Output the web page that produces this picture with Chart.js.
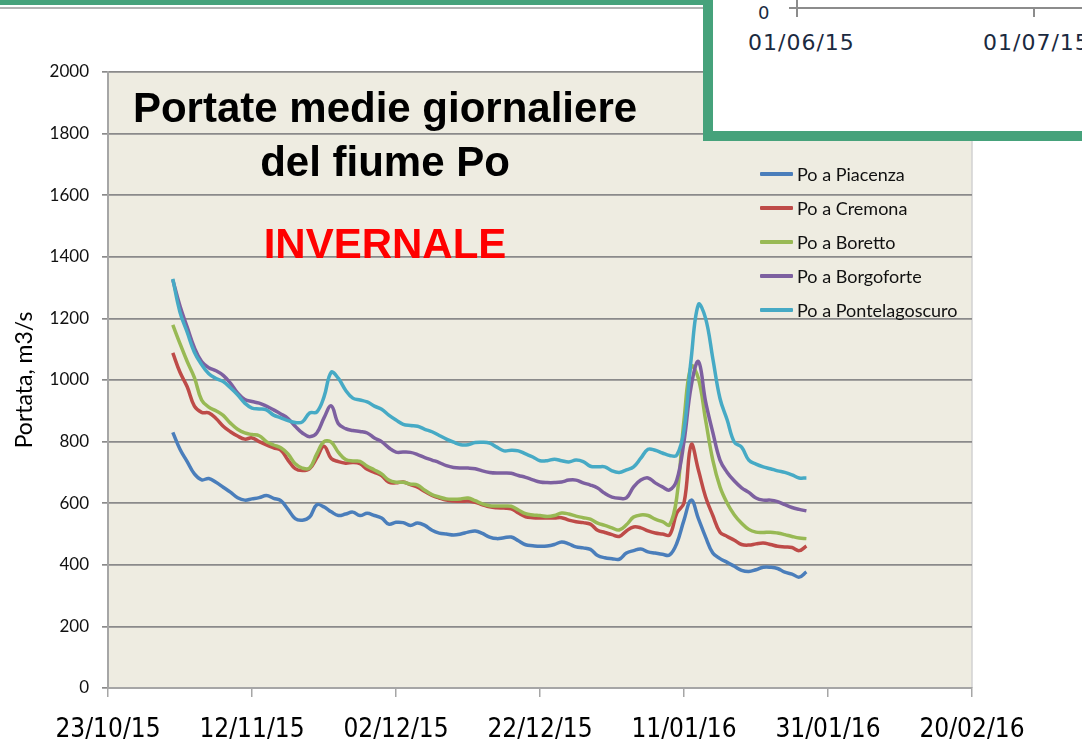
<!DOCTYPE html>
<html>
<head>
<meta charset="utf-8">
<script src="https://cdn.jsdelivr.net/npm/chart.js@4.4.1/dist/chart.umd.min.js"></script>
<style>
  html, body { margin: 0; padding: 0; background: #ffffff; }
  #wrap { position: relative; width: 1082px; height: 752px; overflow: hidden; background: #ffffff; }
  #chart { position: absolute; left: 0; top: 0; }
  .band { position: absolute; left: 0; top: 0; width: 705px; height: 5px; background: #46A27B; }
  .band-line { position: absolute; left: 0; top: 7px; width: 705px; height: 2px; background: #B4B4B4; }
  .inset { position: absolute; left: 703px; top: -10px; width: 420px; height: 141px; background: #ffffff;
           border-left: 10px solid #46A27B; border-bottom: 10px solid #46A27B; }
  .inset-rule { position: absolute; background: #8C8C8C; }
  .inset-text { position: absolute; font-family: "DejaVu Sans", sans-serif; color: #1B2A3F; white-space: nowrap; }
  #legend { position: absolute; left: 760px; top: 157px; font-family: Lato, sans-serif; font-size: 18px; color: #111; }
  #legend .item { display: flex; align-items: center; height: 34px; }
  #legend .swatch { width: 33px; height: 4px; margin-right: 4px; border-radius: 1px; }
</style>
</head>
<body>
<div id="wrap">
  <canvas id="chart" width="1082" height="752"></canvas>
  <div class="band"></div>
  <div class="band-line"></div>
  <div class="inset"></div>
  <div class="inset-rule" style="left:796px; top:0px; width:2px; height:17px;"></div>
  <div class="inset-rule" style="left:789px; top:7px; width:8px; height:2px;"></div>
  <div class="inset-rule" style="left:797px; top:7px; width:300px; height:2px;"></div>
  <div class="inset-rule" style="left:1033px; top:8px; width:2px; height:9px;"></div>
  <div class="inset-text" style="left:758px; top:2px; font-size:18px;">0</div>
  <div class="inset-text" style="left:748px; top:30px; font-size:22px; letter-spacing:1px;">01/06/15</div>
  <div class="inset-text" style="left:983px; top:30px; font-size:22px; letter-spacing:1px;">01/07/15</div>
  <div id="legend"></div>
</div>
<script>
// Tick labels of the date axis, one every 20 days from 23/10/15
const tickLabels = ['23/10/15', '12/11/15', '02/12/15', '22/12/15', '11/01/16', '31/01/16', '20/02/16'];
const tickStep = 20;
// First daily value is 01/11/15 = day 9 counted from 23/10/15
const firstDay = 9;

const seriesNames = ['Po a Piacenza', 'Po a Cremona', 'Po a Boretto', 'Po a Borgoforte', 'Po a Pontelagoscuro'];
const seriesColors = ['#4A7EBB', '#BE4B48', '#98B954', '#7D60A0', '#46AAC5'];

// Daily mean discharge (m3/s), 01/11/15 .. 28/01/16
const piacenza = [
  830, 775, 735, 695, 676, 680, 668, 652, 636, 618,
  610, 614, 618, 625, 616, 608, 580, 550, 545, 555,
  595, 588, 572, 560, 565, 571, 560, 567, 560, 552,
  532, 538, 537, 528, 536, 528, 512, 503, 500, 497,
  500, 506, 510, 502, 490, 485, 488, 490, 478, 465,
  462, 460, 461, 466, 474, 468, 458, 455, 450, 430,
  423, 420, 418, 438, 446, 451, 442, 438, 434, 432,
  470, 545, 610, 550, 490, 438, 420, 408, 395, 382,
  378, 384, 392, 392, 388, 376, 370, 360, 377
];
const cremona = [
  1088, 1025, 978, 915, 895, 893, 875, 850, 832, 818,
  808, 812, 800, 789, 780, 772, 740, 712, 706, 712,
  747, 785, 745, 735, 730, 732, 728, 710, 700, 690,
  668, 666, 669, 660, 652, 638, 625, 617, 610, 607,
  606, 607, 603, 595, 588, 585, 584, 582, 568, 556,
  553, 552, 552, 552, 553, 545, 540, 537, 532, 512,
  505, 498, 492, 510, 523, 520, 510, 503, 500, 497,
  568, 601, 790, 708, 620, 560, 506, 492, 480, 466,
  464, 468, 471, 466, 460, 458, 456, 446, 461
];
const boretto = [
  1179, 1118, 1060, 1008, 935, 912, 900, 885, 860, 840,
  828, 823, 819, 800, 789, 780, 760, 728, 714, 714,
  760, 800, 798, 765, 742, 737, 736, 720, 708, 695,
  675, 668, 668, 662, 659, 642, 628, 620, 614, 613,
  614, 617, 608, 598, 592, 591, 591, 590, 578, 566,
  562, 560, 557, 560, 568, 565, 558, 553, 548, 535,
  528, 520, 513, 530, 555, 562, 560, 548, 540, 530,
  620, 870, 1045, 1005, 870, 740, 653, 600, 562, 535,
  515, 506, 505, 506, 503, 498, 492, 487, 485
];
const borgoforte = [
  1325, 1240, 1172, 1105, 1060, 1040, 1030, 1015, 990, 958,
  937, 930, 925, 915, 903, 890, 875, 850, 828, 816,
  828, 877, 916, 858, 842, 836, 833, 828, 812, 800,
  780, 766, 766, 765, 758, 748, 740, 732, 722, 716,
  714, 714, 712, 705, 700, 698, 698, 697, 690, 684,
  676, 669, 667, 667, 669, 675, 675, 666, 659, 649,
  632, 620, 616, 617, 653, 675, 682, 666, 653, 643,
  675, 800, 980, 1060, 930, 830, 740, 700, 672, 650,
  635, 617, 610, 610, 605, 595, 586, 580, 575
];
const pontelagoscuro = [
  1328, 1220, 1155, 1090, 1050, 1020, 1005, 995, 975, 952,
  925, 909, 906, 903, 886, 877, 868, 862, 864, 893,
  896, 945, 1025, 1005, 967, 941, 935, 929, 915, 905,
  886, 870, 856, 852, 850, 840, 832, 820, 808, 798,
  790, 790, 797, 798, 795, 782, 770, 772, 770, 760,
  750, 738, 738, 743, 738, 734, 740, 735, 720, 718,
  718, 705, 700, 708, 718, 746, 775, 772, 763, 755,
  756, 838, 1070, 1245, 1200, 1070, 940, 870, 798, 782,
  740, 727, 718, 712, 705, 700, 692, 682, 682
];
const allSeries = [piacenza, cremona, boretto, borgoforte, pontelagoscuro];

const datasets = allSeries.map((values, k) => ({
  label: seriesNames[k],
  data: values.map((v, i) => ({ x: firstDay + i, y: v })),
  borderColor: seriesColors[k],
  backgroundColor: seriesColors[k],
  borderWidth: 3.5,
  pointRadius: 0,
  pointHoverRadius: 0,
  tension: 0.4,
  fill: false,
  // later stations are painted on top
  order: allSeries.length - 1 - k
}));

// Beige plot background and its light right-hand edge
const plotBackground = {
  id: 'plotBackground',
  beforeDraw(chart) {
    const { ctx, chartArea: a } = chart;
    ctx.save();
    ctx.fillStyle = '#EEECE1';
    ctx.fillRect(a.left, a.top, a.right - a.left, a.bottom - a.top);
    ctx.strokeStyle = '#D2D2D2';
    ctx.lineWidth = 1.5;
    ctx.beginPath();
    ctx.moveTo(a.right, a.top);
    ctx.lineTo(a.right, a.bottom);
    ctx.stroke();
    ctx.restore();
  }
};

// Heading written inside the plot
const plotHeading = {
  id: 'plotHeading',
  afterDraw(chart) {
    const { ctx } = chart;
    ctx.save();
    ctx.textAlign = 'center';
    ctx.textBaseline = 'alphabetic';
    ctx.font = 'bold 42px "Liberation Sans", Arial, sans-serif';
    ctx.fillStyle = '#000000';
    ctx.fillText('Portate medie giornaliere', 385, 122);
    ctx.fillText('del fiume Po', 385, 176);
    ctx.fillStyle = '#FF0000';
    ctx.fillText('INVERNALE', 385, 258);
    ctx.restore();
  }
};

Chart.defaults.font.family = 'Lato, sans-serif';

const chart = new Chart(document.getElementById('chart'), {
  type: 'line',
  data: { datasets },
  options: {
    responsive: false,
    animation: false,
    devicePixelRatio: 1,
    layout: { padding: { left: 0, top: 72, right: 110, bottom: 0 } },
    plugins: {
      legend: { display: false },
      tooltip: { enabled: false }
    },
    scales: {
      x: {
        type: 'linear',
        min: 0,
        max: 120,
        afterFit: (s) => { s.height = 64; },
        ticks: {
          stepSize: tickStep,
          autoSkip: false,
          maxRotation: 0,
          padding: 18,
          color: '#000000',
          font: { family: '"Liberation Sans Narrow", "DejaVu Sans Condensed", sans-serif', size: 26 },
          callback: (v) => tickLabels[Math.round(v / tickStep)]
        },
        grid: { drawOnChartArea: false, drawTicks: true, tickLength: 9, color: '#A6A6A6', lineWidth: 1.5 },
        border: { color: '#A6A6A6', width: 2 }
      },
      y: {
        min: 0,
        max: 2000,
        afterFit: (s) => { s.width = 108; },
        ticks: {
          stepSize: 200,
          padding: 13,
          color: '#111111',
          font: { family: 'Lato, sans-serif', size: 17 },
          callback: (v) => String(v)
        },
        grid: { color: '#8A8A8A', lineWidth: 1.7, tickLength: 6 },
        border: { color: '#A6A6A6', width: 2 },
        title: {
          display: true,
          text: 'Portata, m3/s',
          color: '#000000',
          font: { family: 'Lato, sans-serif', size: 23 },
          padding: { top: 11, bottom: 0 }
        }
      }
    }
  },
  plugins: [plotBackground, plotHeading]
});

// Legend built from the chart's own datasets
const legendEl = document.getElementById('legend');
chart.data.datasets.forEach((ds) => {
  const item = document.createElement('div');
  item.className = 'item';
  const sw = document.createElement('span');
  sw.className = 'swatch';
  sw.style.background = ds.borderColor;
  const tx = document.createElement('span');
  tx.textContent = ds.label;
  item.appendChild(sw);
  item.appendChild(tx);
  legendEl.appendChild(item);
});
</script>
</body>
</html>
